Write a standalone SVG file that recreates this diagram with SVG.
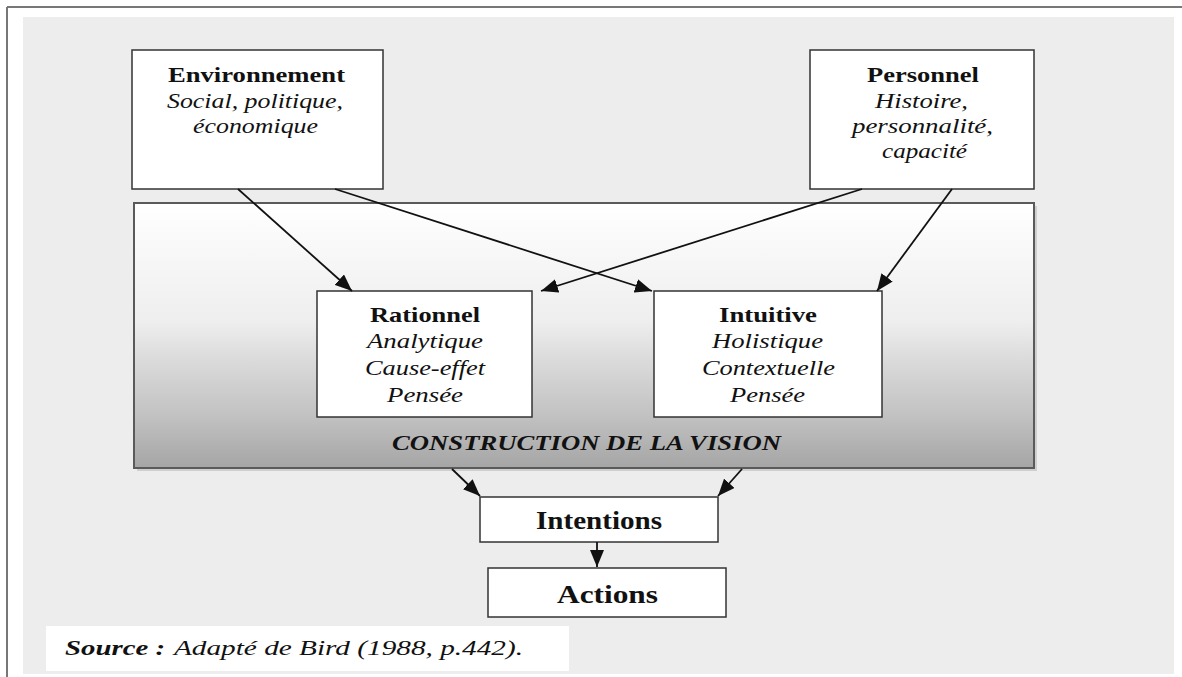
<svg xmlns="http://www.w3.org/2000/svg" width="1182" height="677" viewBox="0 0 1182 677">
  <style>
    text { font-family: "Liberation Serif", "Times New Roman", serif; fill: #111; }
    .t { font-weight: bold; font-size: 22px; }
    .i { font-style: italic; font-size: 21px; }
    .bi { font-weight: bold; font-style: italic; font-size: 22px; }
    .big { font-weight: bold; font-size: 26px; }
    .box { fill: #fff; stroke: #333; stroke-width: 1.5; }
    .conn line { stroke: #111; stroke-width: 1.8; marker-end: url(#head); }
  </style>
  <defs>
    <marker id="head" markerUnits="userSpaceOnUse" markerWidth="18" markerHeight="14" refX="17" refY="7" orient="auto">
      <path d="M0,0 L17,7 L0,14 Z" fill="#111"/>
    </marker>
    <linearGradient id="vision" x1="0" y1="0" x2="0" y2="1">
      <stop offset="0" stop-color="#ffffff"/>
      <stop offset="0.1" stop-color="#fbfbfb"/>
      <stop offset="0.45" stop-color="#eeeeee"/>
      <stop offset="0.6" stop-color="#dadada"/>
      <stop offset="0.8" stop-color="#c2c2c2"/>
      <stop offset="1" stop-color="#a5a5a5"/>
    </linearGradient>
  </defs>

  <!-- page frame and panel -->
  <rect x="0" y="0" width="1182" height="677" fill="#ffffff"/>
  <rect x="23" y="17" width="1151" height="657" fill="#ededed"/>
  <line x1="7" y1="7" x2="1182" y2="7" stroke="#777" stroke-width="2"/>
  <line x1="7" y1="7" x2="7" y2="677" stroke="#777" stroke-width="2"/>

  <!-- vision container -->
  <g id="construction">
    <rect x="137" y="206" width="900" height="265" fill="#cfcfcf"/>
    <rect x="134" y="203" width="900" height="265" fill="url(#vision)" stroke="#5a5a5a" stroke-width="2"/>
    <text class="bi" x="392" y="450" textLength="389" lengthAdjust="spacingAndGlyphs">CONSTRUCTION DE LA VISION</text>
  </g>

  <g id="environnement">
    <rect class="box" x="132" y="50" width="251" height="139"/>
    <text class="t" x="168" y="82" textLength="177" lengthAdjust="spacingAndGlyphs">Environnement</text>
    <text class="i" x="167" y="108" textLength="176" lengthAdjust="spacingAndGlyphs">Social, politique,</text>
    <text class="i" x="193" y="133" textLength="125" lengthAdjust="spacingAndGlyphs">économique</text>
  </g>

  <g id="personnel">
    <rect class="box" x="810" y="50" width="224" height="139"/>
    <text class="t" x="867" y="82" textLength="112" lengthAdjust="spacingAndGlyphs">Personnel</text>
    <text class="i" x="875" y="108" textLength="93" lengthAdjust="spacingAndGlyphs">Histoire,</text>
    <text class="i" x="852" y="133" textLength="141" lengthAdjust="spacingAndGlyphs">personnalité,</text>
    <text class="i" x="882" y="158" textLength="85" lengthAdjust="spacingAndGlyphs">capacité</text>
  </g>

  <g id="rationnel">
    <rect class="box" x="317" y="291" width="215" height="126"/>
    <text class="t" x="370" y="322" textLength="110" lengthAdjust="spacingAndGlyphs">Rationnel</text>
    <text class="i" x="367" y="348" textLength="116" lengthAdjust="spacingAndGlyphs">Analytique</text>
    <text class="i" x="365" y="375" textLength="120" lengthAdjust="spacingAndGlyphs">Cause-effet</text>
    <text class="i" x="387" y="402" textLength="76" lengthAdjust="spacingAndGlyphs">Pensée</text>
  </g>

  <g id="intuitive">
    <rect class="box" x="654" y="291" width="228" height="126"/>
    <text class="t" x="719" y="322" textLength="98" lengthAdjust="spacingAndGlyphs">Intuitive</text>
    <text class="i" x="712" y="348" textLength="111" lengthAdjust="spacingAndGlyphs">Holistique</text>
    <text class="i" x="702" y="375" textLength="133" lengthAdjust="spacingAndGlyphs">Contextuelle</text>
    <text class="i" x="730" y="402" textLength="75" lengthAdjust="spacingAndGlyphs">Pensée</text>
  </g>

  <g id="intentions">
    <rect class="box" x="480" y="497" width="238" height="45"/>
    <text class="big" x="536" y="529" textLength="126" lengthAdjust="spacingAndGlyphs">Intentions</text>
  </g>

  <g id="actions">
    <rect class="box" x="488" y="568" width="238" height="49"/>
    <text class="big" x="557" y="603" textLength="101" lengthAdjust="spacingAndGlyphs">Actions</text>
  </g>

  <g id="source">
    <rect x="46" y="626" width="523" height="45" fill="#ffffff"/>
    <text class="bi" x="65" y="655" textLength="100" lengthAdjust="spacingAndGlyphs">Source :</text>
    <text class="i" x="174" y="655" font-size="22" textLength="349" lengthAdjust="spacingAndGlyphs">Adapté de Bird (1988, p.442).</text>
  </g>

  <g id="connectors" class="conn">
    <line x1="238" y1="189" x2="352" y2="291"/>
    <line x1="335" y1="189" x2="652" y2="291"/>
    <line x1="862" y1="189" x2="541" y2="291"/>
    <line x1="952" y1="189" x2="877" y2="291"/>
    <line x1="452" y1="469" x2="480" y2="496"/>
    <line x1="742" y1="469" x2="718" y2="496"/>
    <line x1="597" y1="542" x2="597" y2="567"/>
  </g>
</svg>
